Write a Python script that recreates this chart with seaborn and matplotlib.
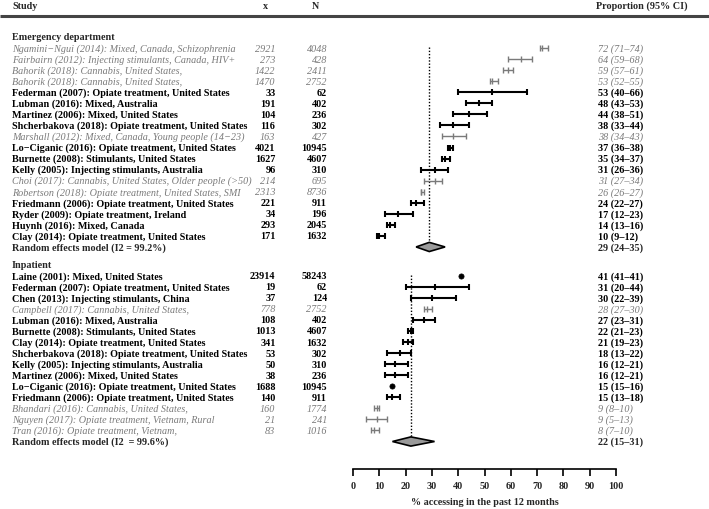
import numpy as np
import pandas as pd
import matplotlib
matplotlib.use("Agg")
import matplotlib.pyplot as plt
import seaborn as sns

# ---------------- data ----------------
ed_study = [
    "Ngamini\u2212Ngui (2014): Mixed, Canada, Schizophrenia",
    "Fairbairn (2012): Injecting stimulants, Canada, HIV+",
    "Bahorik (2018): Cannabis, United States,",
    "Bahorik (2018): Cannabis, United States,",
    "Federman (2007): Opiate treatment, United States",
    "Lubman (2016): Mixed, Australia",
    "Martinez (2006): Mixed, United States",
    "Shcherbakova (2018): Opiate treatment, United States",
    "Marshall (2012): Mixed, Canada, Young people (14\u221223)",
    "Lo\u2212Ciganic (2016): Opiate treatment, United States",
    "Burnette (2008): Stimulants, United States",
    "Kelly (2005): Injecting stimulants, Australia",
    "Choi (2017): Cannabis, United States, Older people (>50)",
    "Robertson (2018): Opiate treatment, United States, SMI",
    "Friedmann (2006): Opiate treatment, United States",
    "Ryder (2009): Opiate treatment, Ireland",
    "Huynh (2016): Mixed, Canada",
    "Clay (2014): Opiate treatment, United States",
]
ed_x = [2921, 273, 1422, 1470, 33, 191, 104, 116, 163, 4021, 1627, 96, 214, 2313, 221, 34, 293, 171]
ed_n = [4048, 428, 2411, 2752, 62, 402, 236, 302, 427, 10945, 4607, 310, 695, 8736, 911, 196, 2045, 1632]
ed_est = [72, 64, 59, 53, 53, 48, 44, 38, 38, 37, 35, 31, 31, 26, 24, 17, 14, 10]
ed_lo = [71, 59, 57, 52, 40, 43, 38, 33, 34, 36, 34, 26, 27, 26, 22, 12, 13, 9]
ed_hi = [74, 68, 61, 55, 66, 53, 51, 44, 43, 38, 37, 36, 34, 27, 27, 23, 16, 12]
ed_secondary = [True, True, True, True, False, False, False, False, True, False,
                False, False, True, True, False, False, False, False]
ed_pooled = [29, 24, 35]
ed_label = "Random effects model (I2 = 99.2%)"

ip_study = [
    "Laine (2001): Mixed, United States",
    "Federman (2007): Opiate treatment, United States",
    "Chen (2013): Injecting stimulants, China",
    "Campbell (2017): Cannabis, United States,",
    "Lubman (2016): Mixed, Australia",
    "Burnette (2008): Stimulants, United States",
    "Clay (2014): Opiate treatment, United States",
    "Shcherbakova (2018): Opiate treatment, United States",
    "Kelly (2005): Injecting stimulants, Australia",
    "Martinez (2006): Mixed, United States",
    "Lo\u2212Ciganic (2016): Opiate treatment, United States",
    "Friedmann (2006): Opiate treatment, United States",
    "Bhandari (2016): Cannabis, United States,",
    "Nguyen (2017): Opiate treatment, Vietnam, Rural",
    "Tran (2016): Opiate treatment, Vietnam,",
]
ip_x = [23914, 19, 37, 778, 108, 1013, 341, 53, 50, 38, 1688, 140, 160, 21, 83]
ip_n = [58243, 62, 124, 2752, 402, 4607, 1632, 302, 310, 236, 10945, 911, 1774, 241, 1016]
ip_est = [41, 31, 30, 28, 27, 22, 21, 18, 16, 16, 15, 15, 9, 9, 8]
ip_lo = [41, 20, 22, 27, 23, 21, 19, 13, 12, 12, 15, 13, 8, 5, 7]
ip_hi = [41, 44, 39, 30, 31, 23, 23, 22, 21, 21, 16, 18, 10, 13, 10]
ip_secondary = [False, False, False, True, False, False, False, False, False, False,
                False, False, True, True, True]
ip_pooled = [22, 15, 31]
ip_label = "Random effects model (I2  = 99.6%)"

xticks = [0, 10, 20, 30, 40, 50, 60, 70, 80, 90, 100]
xlabel = "% accessing in the past 12 months"

# ---------------- layout ----------------
W, H = 709, 510
ROW = 11.05
FONT = ["Liberation Serif", "DejaVu Serif"]
FS = 7.3
GREY = "#7a7a7a"

sns.set_theme(style="white")
plt.rcParams["font.family"] = FONT

fig = plt.figure(figsize=(W / 100, H / 100), dpi=100)
ax_t = fig.add_axes([0, 0, 1, 1])
ax_t.set_xlim(0, W)
ax_t.set_ylim(H, 0)
ax_t.axis("off")

AX_Y = 470
X0, X1 = 353, 616
ax = fig.add_axes([X0 / W, (H - AX_Y) / H, (X1 - X0) / W, AX_Y / H])
ax.set_xlim(0, 100)
ax.set_ylim(AX_Y, 0)
ax.patch.set_alpha(0)

COL_STUDY, COL_X, COL_N, COL_P = 12, 275.5, 327, 598

# header
HY = 6.5
ax_t.text(COL_STUDY, HY, "Study", fontsize=FS, fontweight="bold", va="center")
ax_t.text(266, HY, "x", fontsize=FS, fontweight="bold", va="center", ha="center")
ax_t.text(315, HY, "N", fontsize=FS, fontweight="bold", va="center", ha="center")
ax_t.text(596, HY, "Proportion (95% CI)", fontsize=FS, fontweight="bold", va="center")
ax_t.plot([0, W], [16.5, 16.5], color="#444444", lw=2.2, solid_capstyle="butt")

rows = []


def section(title, y_head, study, xs, ns, est, lo, hi, sec, pooled, plabel):
    ax_t.text(COL_STUDY, y_head, title, fontsize=FS, fontweight="bold", va="center")
    ys = [y_head + ROW * (i + 1) for i in range(len(study))]
    for s, xv, nv, e, l, h, g, y in zip(study, xs, ns, est, lo, hi, sec, ys):
        kw = dict(fontsize=FS, va="center")
        if g:
            kw.update(color=GREY, style="italic")
        else:
            kw.update(color="black", fontweight="bold")
        ax_t.text(COL_STUDY, y, s, **kw)
        ax_t.text(COL_X, y, str(xv), ha="right", **kw)
        ax_t.text(COL_N, y, str(nv), ha="right", **kw)
        ax_t.text(COL_P, y, f"{e} ({l}\u2013{h})", **kw)
        rows.append(dict(y=y, est=e, lo=l, hi=h, kind="sec" if g else "main",
                         isdot=(not g) and (h - l) <= 1))
    y_re = y_head + ROW * (len(study) + 1)
    ax_t.text(COL_STUDY, y_re, plabel, fontsize=FS, fontweight="bold", va="center")
    ax_t.text(COL_P, y_re, f"{pooled[0]} ({pooled[1]}\u2013{pooled[2]})",
              fontsize=FS, fontweight="bold", va="center")
    # diamond
    hh = 4.6
    ax.fill([pooled[1], pooled[0], pooled[2], pooled[0]],
            [y_re, y_re - hh, y_re, y_re + hh],
            facecolor="#9a9a9a", edgecolor="black", lw=1.2, zorder=3)
    ax.vlines(pooled[0], ys[0] - 1, y_re - hh, colors="black",
              linestyles=(0, (1, 1.3)), lw=1.0, zorder=1)


section("Emergency department", 38, ed_study, ed_x, ed_n, ed_est, ed_lo, ed_hi,
        ed_secondary, ed_pooled, ed_label)
section("Inpatient", 265.7, ip_study, ip_x, ip_n, ip_est, ip_lo, ip_hi,
        ip_secondary, ip_pooled, ip_label)

df = pd.DataFrame(rows)
bar = df[~df["isdot"]]
dots = df[df["isdot"]]

for kind, color, lw in [("main", "black", 1.5), ("sec", GREY, 1.0)]:
    d = bar[bar["kind"] == kind]
    ax.hlines(d["y"], d["lo"], d["hi"], colors=color, lw=lw, zorder=2)
    caps = pd.DataFrame({
        "x": np.concatenate([d["lo"], d["est"], d["hi"]]),
        "y": np.concatenate([d["y"], d["y"], d["y"]]),
    })
    sns.scatterplot(data=caps, x="x", y="y", ax=ax, marker="|", s=22,
                    color=color, linewidth=lw, zorder=3, legend=False)

sns.scatterplot(data=dots, x="est", y="y", ax=ax, marker="o", s=14,
                color="black", edgecolor="black", linewidth=0.5, zorder=3, legend=False)

# axis styling
for side in ["top", "right", "left"]:
    ax.spines[side].set_visible(False)
ax.spines["bottom"].set_color("black")
ax.spines["bottom"].set_linewidth(1.2)
ax.set_xticks(xticks)
ax.set_xticklabels([str(t) for t in xticks], fontweight="bold", fontsize=FS)
ax.set_yticks([])
ax.tick_params(axis="x", direction="out", length=5, width=1.2, color="black",
               pad=3.5, bottom=True)
ax.set_xlabel(xlabel, fontsize=FS, fontweight="bold", labelpad=5)
ax.set_ylabel("")
ax.set_xlim(0, 100)
ax.set_ylim(AX_Y, 0)

fig.savefig("out.png", dpi=100)
